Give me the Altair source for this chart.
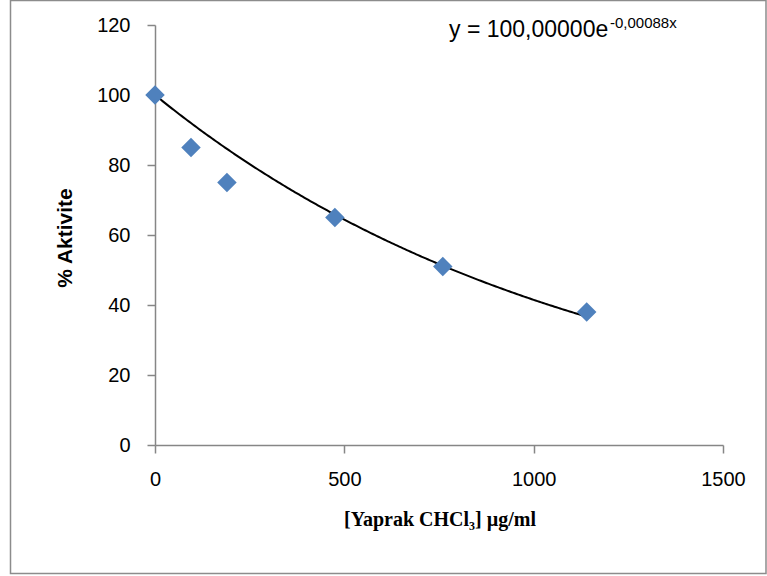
import altair as alt
import pandas as pd

# Measured activity versus extract concentration
concentration = [0, 95, 190, 475, 760, 1140]
activity = [100, 85, 75, 65, 51, 38]

# Exponential trendline coefficients: y = A * exp(B * x)
fit_a = 100.0
fit_b = -0.00088
fit_end = 1140

x_ticks = [0, 500, 1000, 1500]
y_ticks = [0, 20, 40, 60, 80, 100, 120]

W, H = 568, 420
PAD_L, PAD_T, PAD_R, PAD_B = 155, 25, 44, 131

sans = "Liberation Sans"
serif = "Liberation Serif"
axis_grey = "#868686"

points_df = pd.DataFrame({"x": concentration, "y": activity})

x_scale = alt.Scale(domain=[0, 1500], nice=False, zero=False)
y_scale = alt.Scale(domain=[0, 120], nice=False)

x_axis = alt.Axis(values=x_ticks, title=None, labelFlush=False, format="d")
y_axis = alt.Axis(values=y_ticks, title=None, format="d")

curve = (
    alt.Chart(alt.sequence(0, fit_end + 1, 5, as_="x"))
    .transform_calculate(y=f"{fit_a} * exp({fit_b} * datum.x)")
    .mark_line(color="black", strokeWidth=2)
    .encode(
        x=alt.X("x:Q", scale=x_scale, axis=x_axis),
        y=alt.Y("y:Q", scale=y_scale, axis=y_axis),
    )
)

points = (
    alt.Chart(points_df)
    .mark_point(shape="diamond", filled=True, size=380, color="#4F81BD", opacity=1)
    .encode(
        x=alt.X("x:Q", scale=x_scale, axis=x_axis),
        y=alt.Y("y:Q", scale=y_scale, axis=y_axis),
    )
)

one = pd.DataFrame({"k": [0]})

eq_main = alt.Chart(one).mark_text(
    text="y = 100,00000e", font=sans, fontSize=23, align="left", baseline="alphabetic", color="black"
).encode(x=alt.value(449 - PAD_L), y=alt.value(37 - PAD_T))

eq_exp = alt.Chart(one).mark_text(
    text="-0,00088x", font=sans, fontSize=15, align="left", baseline="alphabetic", color="black"
).encode(x=alt.value(610 - PAD_L), y=alt.value(28 - PAD_T))

x_title = alt.Chart(one).mark_text(
    text="[Yaprak CHCl₃] µg/ml", font=serif, fontSize=20, fontWeight="bold",
    align="center", baseline="middle", color="black"
).encode(x=alt.value(440 - PAD_L), y=alt.value(520 - PAD_T))

y_title = alt.Chart(one).mark_text(
    text="% Aktivite", font=sans, fontSize=21, fontWeight="bold", angle=270,
    align="center", baseline="middle", color="black"
).encode(x=alt.value(66 - PAD_L), y=alt.value(238 - PAD_T))

frame = alt.Chart(one).mark_rect(
    filled=False, stroke="#8c8c8c", strokeWidth=1.5
).encode(
    x=alt.value(10.5 - PAD_L), x2=alt.value(766 - PAD_L),
    y=alt.value(0.5 - PAD_T), y2=alt.value(573.5 - PAD_T),
)

chart = (
    alt.layer(frame, curve, points, eq_main, eq_exp, x_title, y_title)
    .properties(
        width=W, height=H,
        autosize=alt.AutoSizeParams(type="none"),
        padding={"left": PAD_L, "top": PAD_T, "right": PAD_R, "bottom": PAD_B},
        background="white",
    )
    .configure_view(strokeWidth=0)
    .configure_axis(
        grid=False,
        domainColor=axis_grey, domainWidth=1.5,
        tickColor=axis_grey, tickWidth=1.5, tickSize=8,
        labelFont=sans, labelFontSize=20, labelColor="black",
    )
    .configure_axisX(labelPadding=16)
    .configure_axisY(labelPadding=17)
)

chart.save("out.html", embed_options={"renderer": "svg", "actions": False})
